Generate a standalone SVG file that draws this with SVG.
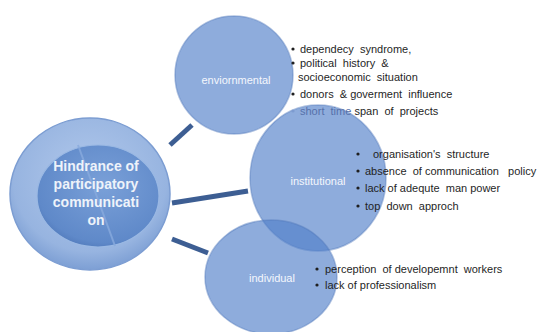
<svg xmlns="http://www.w3.org/2000/svg" width="545" height="332" viewBox="0 0 545 332">
<style>
.bub{fill:#517fc9;fill-opacity:.65;stroke:#4f78bb;stroke-opacity:.45;stroke-width:1.5}
.lbl{font-family:"Liberation Sans",Arial,sans-serif;font-size:11px;fill:#f4f7fc;text-anchor:middle}
.hub{font-family:"Liberation Sans",Arial,sans-serif;font-size:14px;font-weight:bold;fill:#eef3fa;text-anchor:middle}
.bt{font-family:"Liberation Sans",Arial,sans-serif;font-size:11px;fill:#1f1f1f;white-space:pre}
.dot{fill:#1f1f1f}
.con{stroke:#3d5e93;stroke-width:5;fill:none}
</style>
<defs>
<radialGradient id="outerG" cx="50%" cy="40%" r="60%">
<stop offset="0" stop-color="#b2c9ec"/>
<stop offset="0.8" stop-color="#97b4e0"/>
<stop offset="1" stop-color="#7d9fd4"/>
</radialGradient>
<radialGradient id="innerG" cx="55%" cy="40%" r="65%">
<stop offset="0" stop-color="#7aa0d8"/>
<stop offset="0.85" stop-color="#5f89c9"/>
<stop offset="1" stop-color="#4f78b9"/>
</radialGradient>
</defs>
<rect width="545" height="332" fill="#ffffff"/>
<g id="connectors">
<line class="con" x1="170" y1="145" x2="192" y2="125"/>
<line class="con" x1="172" y1="203" x2="248" y2="191"/>
<line class="con" x1="172" y1="239" x2="208" y2="253"/>
</g>
<g id="hub">
<ellipse cx="90" cy="194" rx="80" ry="76" fill="url(#outerG)" stroke="#7c9dd2" stroke-width="1.5"/>
<ellipse cx="98" cy="196" rx="61" ry="51" fill="url(#innerG)" stroke="#9ab8e3" stroke-width="1.2"/>
<line x1="78" y1="145" x2="115" y2="246" stroke="#88aadd" stroke-width="2" stroke-opacity=".8"/>
<text class="hub" x="96" y="171">Hindrance of</text>
<text class="hub" x="96" y="189">participatory</text>
<text class="hub" x="96" y="207">communicati</text>
<text class="hub" x="96" y="225">on</text>
</g>
<g id="environmental">
<circle class="bub" cx="234" cy="75" r="59"/>
<text class="lbl" x="236" y="84">enviornmental</text>
</g>
<g id="institutional">
<ellipse class="bub" cx="318" cy="178" rx="68" ry="73"/>
<text class="lbl" x="318" y="185">institutional</text>
</g>
<g id="individual">
<ellipse class="bub" cx="271" cy="277" rx="66" ry="57"/>
<text class="lbl" x="272" y="282">individual</text>
</g>
<g id="env-list">
<circle class="dot" cx="293" cy="49" r="1.6"/>
<text class="bt" x="300" y="53">dependecy  syndrome,</text>
<circle class="dot" cx="293" cy="63" r="1.6"/>
<text class="bt" x="300" y="67">political  history  &amp;</text>
<text class="bt" x="298" y="81">socioeconomic  situation</text>
<circle class="dot" cx="293" cy="94" r="1.6"/>
<text class="bt" x="300" y="98">donors  &amp; goverment  influence</text>
<circle cx="293" cy="111" r="1.6" fill="#7d9bd0"/>
<text class="bt" x="300" y="115"><tspan fill="#5670aa">short  time</tspan> span  of  projects</text>
</g>
<g id="inst-list">
<circle class="dot" cx="358" cy="154" r="1.6"/>
<text class="bt" x="373" y="158">organisation's  structure</text>
<circle class="dot" cx="358" cy="171" r="1.6"/>
<text class="bt" x="365" y="175">absence  of communication   policy</text>
<circle class="dot" cx="358" cy="188" r="1.6"/>
<text class="bt" x="365" y="192">lack of adequte  man power</text>
<circle class="dot" cx="358" cy="206" r="1.6"/>
<text class="bt" x="365" y="210">top  down  approch</text>
</g>
<g id="ind-list">
<circle class="dot" cx="317" cy="269" r="1.6"/>
<text class="bt" x="325" y="273">perception  of developemnt  workers</text>
<circle class="dot" cx="317" cy="285" r="1.6"/>
<text class="bt" x="325" y="289">lack of professionalism</text>
</g>
</svg>
